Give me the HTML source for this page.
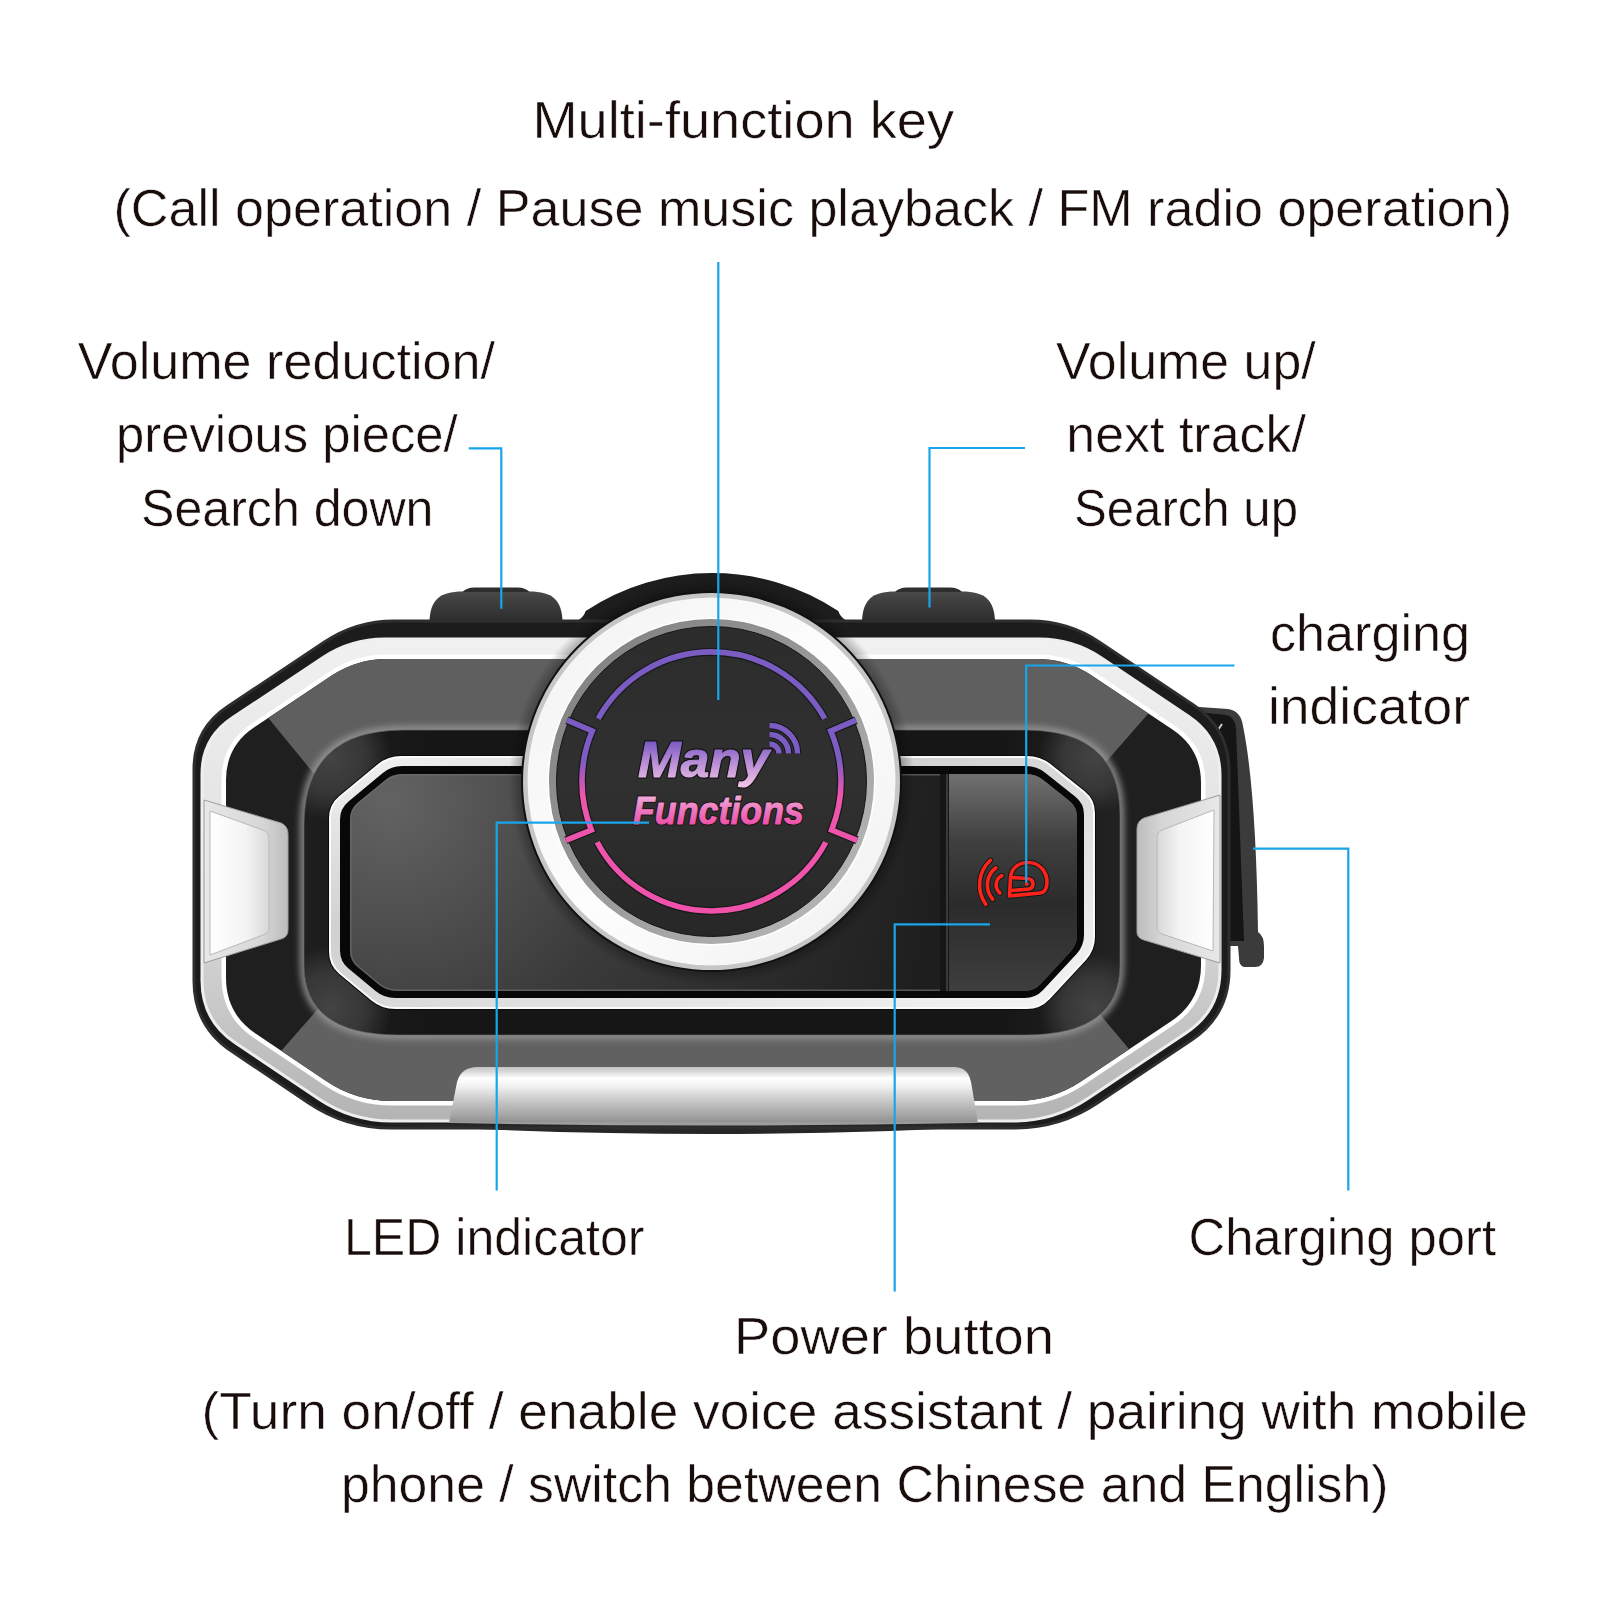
<!DOCTYPE html>
<html><head><meta charset="utf-8"><title>Intercom diagram</title>
<style>
html,body{margin:0;padding:0;background:#ffffff;}
body{width:1600px;height:1600px;overflow:hidden;position:relative;}
svg{position:absolute;left:0;top:0;display:block;}
svg text.L{font-family:"Liberation Sans",sans-serif;font-size:52px;fill:#180d0b;stroke:#ffffff;stroke-width:0.5px;}
</style></head><body>
<svg width="1600" height="1600" viewBox="0 0 1600 1600">
<defs>
<linearGradient id="gSil" x1="0" y1="621" x2="0" y2="1128" gradientUnits="userSpaceOnUse"><stop offset="0" stop-color="#f2f2f2"/><stop offset="0.5" stop-color="#e0e0e0"/><stop offset="1" stop-color="#b2b2b2"/></linearGradient>
<linearGradient id="gBtn" x1="0" y1="588" x2="0" y2="624" gradientUnits="userSpaceOnUse"><stop offset="0" stop-color="#4e4e4e"/><stop offset="0.3" stop-color="#424242"/><stop offset="1" stop-color="#2a2a2a"/></linearGradient>
<radialGradient id="gScr" cx="390" cy="800" r="560" gradientUnits="userSpaceOnUse"><stop offset="0" stop-color="#636363"/><stop offset="0.45" stop-color="#3a3a3a"/><stop offset="1" stop-color="#1e1e1e"/></radialGradient>
<linearGradient id="gPow" x1="0" y1="775" x2="0" y2="991" gradientUnits="userSpaceOnUse"><stop offset="0" stop-color="#707070"/><stop offset="0.3" stop-color="#404040"/><stop offset="0.6" stop-color="#2b2b2b"/><stop offset="1" stop-color="#3e3e3e"/></linearGradient>
<linearGradient id="gRec" x1="304" y1="0" x2="1120" y2="0" gradientUnits="userSpaceOnUse"><stop offset="0" stop-color="#1e1e1e"/><stop offset="0.16" stop-color="#161616"/><stop offset="0.85" stop-color="#161616"/><stop offset="1" stop-color="#222222"/></linearGradient><radialGradient id="gCor"><stop offset="0" stop-color="#444444" stop-opacity="1"/><stop offset="0.55" stop-color="#3a3a3a" stop-opacity="0.9"/><stop offset="1" stop-color="#3a3a3a" stop-opacity="0"/></radialGradient>
<radialGradient id="gShadow"><stop offset="0.9" stop-color="#000" stop-opacity="0.45"/><stop offset="1" stop-color="#000" stop-opacity="0"/></radialGradient>
<linearGradient id="gRing" x1="0" y1="0" x2="1" y2="1"><stop offset="0" stop-color="#f2f2f2"/><stop offset="0.5" stop-color="#fdfdfd"/><stop offset="1" stop-color="#f0f0f0"/></linearGradient>
<linearGradient id="gBev" x1="0" y1="0" x2="1" y2="1"><stop offset="0" stop-color="#7c7c7c"/><stop offset="0.5" stop-color="#9a9a9a"/><stop offset="1" stop-color="#bdbdbd"/></linearGradient>
<linearGradient id="gDisk" x1="0" y1="0" x2="0" y2="1"><stop offset="0" stop-color="#2c2c2c"/><stop offset="0.5" stop-color="#303030"/><stop offset="1" stop-color="#272727"/></linearGradient>
<linearGradient id="gArc" x1="0" y1="646.5" x2="0" y2="916.5" gradientUnits="userSpaceOnUse"><stop offset="0" stop-color="#7a5cc2"/><stop offset="0.42" stop-color="#7d5cc4"/><stop offset="0.55" stop-color="#ee55ad"/><stop offset="1" stop-color="#f052aa"/></linearGradient>
<linearGradient id="gMany" x1="0" y1="740" x2="0" y2="787" gradientUnits="userSpaceOnUse"><stop offset="0" stop-color="#7656c0"/><stop offset="0.45" stop-color="#b58ad6"/><stop offset="1" stop-color="#f4c6e6"/></linearGradient>
<linearGradient id="gFun" x1="0" y1="795" x2="0" y2="825" gradientUnits="userSpaceOnUse"><stop offset="0" stop-color="#f0b0da"/><stop offset="0.5" stop-color="#ee78bf"/><stop offset="1" stop-color="#ee4fa8"/></linearGradient>
<linearGradient id="gFrame" x1="0" y1="0" x2="1" y2="0"><stop offset="0" stop-color="#e8e8e8"/><stop offset="0.7" stop-color="#d6d6d6"/><stop offset="1" stop-color="#bcbcbc"/></linearGradient>
<linearGradient id="gFrameR" x1="1" y1="0" x2="0" y2="0"><stop offset="0" stop-color="#e8e8e8"/><stop offset="0.7" stop-color="#d6d6d6"/><stop offset="1" stop-color="#bcbcbc"/></linearGradient>
<linearGradient id="gClip" x1="0" y1="0" x2="1" y2="0"><stop offset="0" stop-color="#ffffff"/><stop offset="0.6" stop-color="#f4f4f4"/><stop offset="1" stop-color="#d8d8d8"/></linearGradient>
<linearGradient id="gClipR" x1="1" y1="0" x2="0" y2="0"><stop offset="0" stop-color="#ffffff"/><stop offset="0.6" stop-color="#f4f4f4"/><stop offset="1" stop-color="#d8d8d8"/></linearGradient>
<linearGradient id="gBar" x1="0" y1="1067" x2="0" y2="1123" gradientUnits="userSpaceOnUse"><stop offset="0" stop-color="#c4c4c4"/><stop offset="0.08" stop-color="#d8d8d8"/><stop offset="0.2" stop-color="#ffffff"/><stop offset="0.35" stop-color="#f0f0f0"/><stop offset="0.6" stop-color="#c8c8c8"/><stop offset="0.85" stop-color="#a6a6a6"/><stop offset="0.97" stop-color="#939393"/><stop offset="1" stop-color="#9d9d9d"/></linearGradient>
<linearGradient id="gRim" x1="0" y1="0" x2="1" y2="1"><stop offset="0" stop-color="#f2f2f2"/><stop offset="0.35" stop-color="#d0d0d0"/><stop offset="0.7" stop-color="#e4e4e4"/><stop offset="1" stop-color="#f4f4f4"/></linearGradient>
<clipPath id="cInner"><path d="M331.7,675.6 Q356.7,659.0 386.7,659.0 L1037.2,659.0 Q1067.2,659.0 1092.1,675.7 L1172.8,729.8 Q1201.0,748.8 1201.0,782.8 L1201.0,965.2 Q1201.0,1001.2 1171.1,1021.3 L1081.7,1081.0 Q1051.8,1101.0 1015.8,1101.0 L392.0,1101.0 Q356.0,1101.0 326.1,1080.9 L255.9,1033.8 Q226.0,1013.8 226.0,977.8 L226.0,780.1 Q226.0,746.1 254.3,727.3 Z"/></clipPath>
<filter id="fBlur" x="-10%" y="-10%" width="120%" height="120%"><feGaussianBlur stdDeviation="3.5"/></filter>
<clipPath id="cScr0"><path d="M384.8,780.4 Q392.6,774.0 402.6,774.0 L1025.7,774.0 Q1035.7,774.0 1043.5,780.2 L1069.2,800.7 Q1077.0,806.9 1077.0,816.9 L1077.0,934.8 Q1077.0,944.8 1070.2,952.1 L1040.8,983.7 Q1034.0,991.0 1024.0,991.0 L396.5,991.0 Q386.5,991.0 378.8,984.6 L357.7,967.1 Q350.0,960.8 350.0,950.8 L350.0,819.2 Q350.0,809.2 357.7,802.8 Z"/></clipPath>
</defs>
<path d="M429.5,628 L429.5,622 C430.0,600 439.5,591.5 462.5,591.5 L529.5,591.5 C552.5,591.5 562.0,600 562.5,622 L562.5,628 Z" fill="url(#gBtn)"/>
<path d="M462.5,592 Q466.5,587.5 474.5,587.5 L517.5,587.5 Q525.5,587.5 529.5,592 Z" fill="#2e2e2e"/>
<path d="M862,628 L862,622 C862.5,600 872,591.5 895,591.5 L962,591.5 C985,591.5 994.5,600 995,622 L995,628 Z" fill="url(#gBtn)"/>
<path d="M895,592 Q899,587.5 907,587.5 L950,587.5 Q958,587.5 962,592 Z" fill="#2e2e2e"/>
<path d="M1185,706 L1228,709 Q1241,711 1243,726 Q1256,790 1258,932 Q1264,936 1264,946 L1264,958 Q1263,967 1255,967 L1244,967 Q1239,966 1239,958 L1238,946 L1185,946 Z" fill="#3b3b3b"/>
<path d="M1198,712 L1226,715 Q1235,717 1236,728 L1244,941 L1200,941 Z" fill="#151515"/>
<path d="M1216,733 L1222,724" stroke="#d0d0d0" stroke-width="2"/>
<path d="M566,624 Q582,622 585.7,611 A229,229 0 0 1 838.3,611 Q842,622 858,624 Z" fill="#1d1d1d"/>
<path d="M324.4,642.1 Q356.0,621.0 394.0,621.0 L1030.0,621.0 Q1068.0,621.0 1099.6,642.2 L1194.1,705.6 Q1229.0,729.0 1229.0,771.0 L1229.0,970.0 Q1229.0,1015.0 1191.6,1040.0 L1097.4,1103.0 Q1060.0,1128.0 1015.0,1128.0 L391.0,1128.0 Q346.0,1128.0 308.6,1102.9 L231.4,1051.1 Q194.0,1026.0 194.0,981.0 L194.0,769.0 Q194.0,729.0 227.3,706.8 Z" fill="#1c1c1c"/>
<path d="M378,1124 Q712,1144 1040,1124 Z" fill="#262626"/>
<path d="M324.4,642.1 Q356.0,621.0 394.0,621.0 L1030.0,621.0 Q1068.0,621.0 1099.6,642.2 L1194.1,705.6 Q1229.0,729.0 1229.0,771.0 L1229.0,970.0 Q1229.0,1015.0 1191.6,1040.0 L1097.4,1103.0 Q1060.0,1128.0 1015.0,1128.0 L391.0,1128.0 Q346.0,1128.0 308.6,1102.9 L231.4,1051.1 Q194.0,1026.0 194.0,981.0 L194.0,769.0 Q194.0,729.0 227.3,706.8 Z" fill="none" stroke="#2e2e2e" stroke-width="3"/>
<path d="M322.3,657.9 Q350.6,639.0 384.6,639.0 L1039.3,639.0 Q1073.3,639.0 1101.5,657.9 L1188.4,716.2 Q1220.0,737.4 1220.0,775.4 L1220.0,970.2 Q1220.0,1010.2 1186.7,1032.4 L1087.5,1098.8 Q1054.3,1121.0 1014.3,1121.0 L391.7,1121.0 Q351.7,1121.0 318.5,1098.7 L235.2,1042.8 Q202.0,1020.5 202.0,980.5 L202.0,774.1 Q202.0,738.1 232.0,718.1 Z" fill="url(#gSil)"/>
<path d="M322.3,657.9 Q350.6,639.0 384.6,639.0 L1039.3,639.0 Q1073.3,639.0 1101.5,657.9 L1188.4,716.2 Q1220.0,737.4 1220.0,775.4 L1220.0,970.2 Q1220.0,1010.2 1186.7,1032.4 L1087.5,1098.8 Q1054.3,1121.0 1014.3,1121.0 L391.7,1121.0 Q351.7,1121.0 318.5,1098.7 L235.2,1042.8 Q202.0,1020.5 202.0,980.5 L202.0,774.1 Q202.0,738.1 232.0,718.1 Z" fill="none" stroke="#eeeeee" stroke-width="3"/>
<path d="M331.7,675.6 Q356.7,659.0 386.7,659.0 L1037.2,659.0 Q1067.2,659.0 1092.1,675.7 L1172.8,729.8 Q1201.0,748.8 1201.0,782.8 L1201.0,965.2 Q1201.0,1001.2 1171.1,1021.3 L1081.7,1081.0 Q1051.8,1101.0 1015.8,1101.0 L392.0,1101.0 Q356.0,1101.0 326.1,1080.9 L255.9,1033.8 Q226.0,1013.8 226.0,977.8 L226.0,780.1 Q226.0,746.1 254.3,727.3 Z" fill="none" stroke="#ffffff" stroke-width="9"/>
<path d="M331.7,675.6 Q356.7,659.0 386.7,659.0 L1037.2,659.0 Q1067.2,659.0 1092.1,675.7 L1172.8,729.8 Q1201.0,748.8 1201.0,782.8 L1201.0,965.2 Q1201.0,1001.2 1171.1,1021.3 L1081.7,1081.0 Q1051.8,1101.0 1015.8,1101.0 L392.0,1101.0 Q356.0,1101.0 326.1,1080.9 L255.9,1033.8 Q226.0,1013.8 226.0,977.8 L226.0,780.1 Q226.0,746.1 254.3,727.3 Z" fill="#1f1f1f"/>
<g clip-path="url(#cInner)"><polygon points="202,637 315,775 1106,762 1210,643" fill="#5f5f5f"/><polygon points="325,1001 224,1116 1192,1124 1092,1005" fill="#616161"/></g>
<g clip-path="url(#cInner)"><path d="M304.0,825.0 Q304.0,730.0 404.0,730.0 L1025.0,730.0 Q1120.0,730.0 1120.0,815.0 L1120.0,965.0 Q1120.0,1035.0 1025.0,1035.0 L399.0,1035.0 Q304.0,1035.0 304.0,965.0 Z" fill="none" stroke="#9a9a9a" stroke-width="7" filter="url(#fBlur)"/></g>
<path d="M304.0,825.0 Q304.0,730.0 404.0,730.0 L1025.0,730.0 Q1120.0,730.0 1120.0,815.0 L1120.0,965.0 Q1120.0,1035.0 1025.0,1035.0 L399.0,1035.0 Q304.0,1035.0 304.0,965.0 Z" fill="url(#gRec)"/>
<clipPath id="cRec"><path d="M304.0,825.0 Q304.0,730.0 404.0,730.0 L1025.0,730.0 Q1120.0,730.0 1120.0,815.0 L1120.0,965.0 Q1120.0,1035.0 1025.0,1035.0 L399.0,1035.0 Q304.0,1035.0 304.0,965.0 Z"/></clipPath>
<g clip-path="url(#cRec)"><circle cx="330" cy="758" r="62" fill="url(#gCor)"/><circle cx="330" cy="1008" r="62" fill="url(#gCor)"/><circle cx="1094" cy="758" r="55" fill="url(#gCor)"/><circle cx="1094" cy="1008" r="55" fill="url(#gCor)"/></g>
<path d="M304.0,825.0 Q304.0,730.0 404.0,730.0 L1025.0,730.0 Q1120.0,730.0 1120.0,815.0 L1120.0,965.0 Q1120.0,1035.0 1025.0,1035.0 L399.0,1035.0 Q304.0,1035.0 304.0,965.0 Z" fill="none" stroke="#6a6a6a" stroke-width="1" stroke-opacity="0.6"/>
<path d="M378.0,765.3 Q388.0,757.0 401.0,757.0 L1027.0,757.0 Q1040.0,757.0 1050.2,765.1 L1083.8,791.9 Q1094.0,800.0 1094.0,813.0 L1094.0,937.0 Q1094.0,950.0 1085.1,959.5 L1048.9,998.5 Q1040.0,1008.0 1027.0,1008.0 L395.0,1008.0 Q382.0,1008.0 372.0,999.7 L340.0,973.3 Q330.0,965.0 330.0,952.0 L330.0,818.0 Q330.0,805.0 340.0,796.7 Z" fill="none" stroke="#0a0a0a" stroke-width="4"/>
<path d="M378.0,765.3 Q388.0,757.0 401.0,757.0 L1027.0,757.0 Q1040.0,757.0 1050.2,765.1 L1083.8,791.9 Q1094.0,800.0 1094.0,813.0 L1094.0,937.0 Q1094.0,950.0 1085.1,959.5 L1048.9,998.5 Q1040.0,1008.0 1027.0,1008.0 L395.0,1008.0 Q382.0,1008.0 372.0,999.7 L340.0,973.3 Q330.0,965.0 330.0,952.0 L330.0,818.0 Q330.0,805.0 340.0,796.7 Z" fill="url(#gRim)"/>
<path d="M378.0,765.3 Q388.0,757.0 401.0,757.0 L1027.0,757.0 Q1040.0,757.0 1050.2,765.1 L1083.8,791.9 Q1094.0,800.0 1094.0,813.0 L1094.0,937.0 Q1094.0,950.0 1085.1,959.5 L1048.9,998.5 Q1040.0,1008.0 1027.0,1008.0 L395.0,1008.0 Q382.0,1008.0 372.0,999.7 L340.0,973.3 Q330.0,965.0 330.0,952.0 L330.0,818.0 Q330.0,805.0 340.0,796.7 Z" fill="none" stroke="#fafafa" stroke-width="2"/>
<path d="M382.8,773.0 Q391.2,766.0 402.2,766.0 L1025.9,766.0 Q1036.9,766.0 1045.5,772.9 L1075.4,796.7 Q1084.0,803.5 1084.0,814.5 L1084.0,935.1 Q1084.0,946.1 1076.5,954.1 L1043.1,989.9 Q1035.6,998.0 1024.6,998.0 L395.0,998.0 Q384.0,998.0 375.6,991.0 L348.5,968.6 Q340.0,961.6 340.0,950.6 L340.0,819.4 Q340.0,808.4 348.5,801.4 Z" fill="#080808"/>
<path d="M384.8,780.4 Q392.6,774.0 402.6,774.0 L1025.7,774.0 Q1035.7,774.0 1043.5,780.2 L1069.2,800.7 Q1077.0,806.9 1077.0,816.9 L1077.0,934.8 Q1077.0,944.8 1070.2,952.1 L1040.8,983.7 Q1034.0,991.0 1024.0,991.0 L396.5,991.0 Q386.5,991.0 378.8,984.6 L357.7,967.1 Q350.0,960.8 350.0,950.8 L350.0,819.2 Q350.0,809.2 357.7,802.8 Z" fill="url(#gScr)"/>
<path d="M384.8,780.4 Q392.6,774.0 402.6,774.0 L1025.7,774.0 Q1035.7,774.0 1043.5,780.2 L1069.2,800.7 Q1077.0,806.9 1077.0,816.9 L1077.0,934.8 Q1077.0,944.8 1070.2,952.1 L1040.8,983.7 Q1034.0,991.0 1024.0,991.0 L396.5,991.0 Q386.5,991.0 378.8,984.6 L357.7,967.1 Q350.0,960.8 350.0,950.8 L350.0,819.2 Q350.0,809.2 357.7,802.8 Z" fill="none" stroke="#6e6e6e" stroke-width="3" stroke-opacity="0.7" clip-path="url(#cScr0)"/>
<clipPath id="cScr"><path d="M384.8,780.4 Q392.6,774.0 402.6,774.0 L1025.7,774.0 Q1035.7,774.0 1043.5,780.2 L1069.2,800.7 Q1077.0,806.9 1077.0,816.9 L1077.0,934.8 Q1077.0,944.8 1070.2,952.1 L1040.8,983.7 Q1034.0,991.0 1024.0,991.0 L396.5,991.0 Q386.5,991.0 378.8,984.6 L357.7,967.1 Q350.0,960.8 350.0,950.8 L350.0,819.2 Q350.0,809.2 357.7,802.8 Z"/></clipPath>
<g clip-path="url(#cScr)">
<rect x="940" y="760" width="10" height="250" fill="#161616"/>
<rect x="946" y="760" width="2" height="250" fill="#3a3a3a"/>
<rect x="949" y="760" width="150" height="250" fill="url(#gPow)"/>
</g>
<circle cx="711.5" cy="781.5" r="203" fill="url(#gShadow)"/>
<circle cx="711.5" cy="781.5" r="190.5" fill="#111111"/>
<circle cx="711.5" cy="781.5" r="188.5" fill="#c6c6c6"/>
<circle cx="711.5" cy="781.5" r="184" fill="url(#gRing)"/>
<circle cx="711.5" cy="781.5" r="164" fill="#ffffff"/>
<circle cx="711.5" cy="781.5" r="162.5" fill="url(#gBev)"/>
<circle cx="711.5" cy="781.5" r="155" fill="url(#gDisk)"/>
<circle cx="711.5" cy="781.5" r="155" fill="none" stroke="#151515" stroke-width="1"/>
<path d="M598.2,718.7 A129.5,129.5 0 0 1 824.8,718.7" fill="none" stroke="#141a18" stroke-width="8" stroke-linejoin="miter"/>
<path d="M825.8,842.3 A129.5,129.5 0 0 1 597.2,842.3" fill="none" stroke="#141a18" stroke-width="8" stroke-linejoin="miter"/>
<path d="M567.0,720.2 L592.3,730.9 A129.5,129.5 0 0 0 591.4,830.0 L565.9,840.3" fill="none" stroke="#141a18" stroke-width="8" stroke-linejoin="miter"/>
<path d="M856.0,720.2 L830.7,730.9 A129.5,129.5 0 0 1 831.6,830.0 L857.1,840.3" fill="none" stroke="#141a18" stroke-width="8" stroke-linejoin="miter"/>
<path d="M598.2,718.7 A129.5,129.5 0 0 1 824.8,718.7" fill="none" stroke="url(#gArc)" stroke-width="5.6" stroke-linejoin="miter"/>
<path d="M825.8,842.3 A129.5,129.5 0 0 1 597.2,842.3" fill="none" stroke="url(#gArc)" stroke-width="5.6" stroke-linejoin="miter"/>
<path d="M567.0,720.2 L592.3,730.9 A129.5,129.5 0 0 0 591.4,830.0 L565.9,840.3" fill="none" stroke="url(#gArc)" stroke-width="5.6" stroke-linejoin="miter"/>
<path d="M856.0,720.2 L830.7,730.9 A129.5,129.5 0 0 1 831.6,830.0 L857.1,840.3" fill="none" stroke="url(#gArc)" stroke-width="5.6" stroke-linejoin="miter"/>
<path d="M769.5,744.0 A9.5,9.5 0 0 1 779.0,753.5" fill="none" stroke="#141414" stroke-width="7.5"/>
<path d="M769.5,734.5 A19,19 0 0 1 788.5,753.5" fill="none" stroke="#141414" stroke-width="7.5"/>
<path d="M769.5,725.5 A28,28 0 0 1 797.5,753.5" fill="none" stroke="#141414" stroke-width="7.5"/>
<path d="M769.5,744.0 A9.5,9.5 0 0 1 779.0,753.5" fill="none" stroke="#7a5cc2" stroke-width="5.5"/>
<path d="M769.5,734.5 A19,19 0 0 1 788.5,753.5" fill="none" stroke="#7a5cc2" stroke-width="5.5"/>
<path d="M769.5,725.5 A28,28 0 0 1 797.5,753.5" fill="none" stroke="#7a5cc2" stroke-width="5.5"/>
<text x="638" y="777" font-family="Liberation Sans, sans-serif" font-weight="bold" font-style="italic" font-size="50" textLength="131" lengthAdjust="spacingAndGlyphs" fill="#151515" stroke="#151515" stroke-width="3.4" stroke-linejoin="round">Many</text>
<text x="638" y="777" font-family="Liberation Sans, sans-serif" font-weight="bold" font-style="italic" font-size="50" textLength="131" lengthAdjust="spacingAndGlyphs" fill="url(#gMany)" stroke="url(#gMany)" stroke-width="1.1" stroke-linejoin="round">Many</text>
<text x="633" y="823.5" font-family="Liberation Sans, sans-serif" font-weight="bold" font-style="italic" font-size="38" textLength="171" lengthAdjust="spacingAndGlyphs" fill="#151515" stroke="#151515" stroke-width="3" stroke-linejoin="round">Functions</text>
<text x="633" y="823.5" font-family="Liberation Sans, sans-serif" font-weight="bold" font-style="italic" font-size="38" textLength="171" lengthAdjust="spacingAndGlyphs" fill="url(#gFun)" stroke="url(#gFun)" stroke-width="0.9" stroke-linejoin="round">Functions</text>
<path d="M204,800 L281,823 Q288,826 288,834 L288,930 Q288,937 281,939 L204,963 Z" fill="url(#gFrame)" stroke="#9c9c9c" stroke-width="1"/>
<path d="M210,811 L263,830 Q269,832 269,838 L269,928 Q269,933 263,935 L210,955 Z" fill="url(#gClip)" stroke="#b8b8b8" stroke-width="1"/>
<path d="M1220,795 L1144,818 Q1137,821 1137,829 L1137,932 Q1137,938 1144,940 L1220,963 Z" fill="url(#gFrameR)" stroke="#9c9c9c" stroke-width="1"/>
<path d="M1214,810 L1162,830 Q1157,832 1157,838 L1157,927 Q1157,932 1162,934 L1213,951 Z" fill="url(#gClipR)" stroke="#b8b8b8" stroke-width="1"/>
<path d="M449,1123 L457,1082 Q461,1067 478,1067 L954,1067 Q968,1067 971,1082 L978,1123 Q712,1128 449,1123 Z" fill="url(#gBar)"/>
<path d="M1001.9,875.7 A10.4,10.4 0 0 0 999.9,893.0" fill="none" stroke="#0e1a1a" stroke-width="5.5" stroke-linecap="round"/>
<path d="M995.9,867.8 A21.6,21.6 0 0 0 992.7,899.2" fill="none" stroke="#0e1a1a" stroke-width="5.5" stroke-linecap="round"/>
<path d="M990.4,860.3 A33.5,33.5 0 0 0 985.8,904.4" fill="none" stroke="#0e1a1a" stroke-width="5.5" stroke-linecap="round"/>
<path d="M1009.5,896 L1010.5,878 C1011,867 1020,862.5 1028,862.5 C1040,862.5 1047,872 1047,882 C1047,889 1045,892.5 1040,893 Z" fill="none" stroke="#0e1a1a" stroke-width="5.5" stroke-linejoin="round"/>
<path d="M1011.5,877.5 L1027,878.5 C1031,878.8 1033,881 1033,884 C1033,887 1031,889 1027,889.3 L1011,890.5" fill="none" stroke="#0e1a1a" stroke-width="5.5" stroke-linejoin="round"/>
<path d="M1001.9,875.7 A10.4,10.4 0 0 0 999.9,893.0" fill="none" stroke="#ff2219" stroke-width="3.6" stroke-linecap="round"/>
<path d="M995.9,867.8 A21.6,21.6 0 0 0 992.7,899.2" fill="none" stroke="#ff2219" stroke-width="3.6" stroke-linecap="round"/>
<path d="M990.4,860.3 A33.5,33.5 0 0 0 985.8,904.4" fill="none" stroke="#ff2219" stroke-width="3.6" stroke-linecap="round"/>
<path d="M1009.5,896 L1010.5,878 C1011,867 1020,862.5 1028,862.5 C1040,862.5 1047,872 1047,882 C1047,889 1045,892.5 1040,893 Z" fill="none" stroke="#ff2219" stroke-width="3.6" stroke-linejoin="round"/>
<path d="M1011.5,877.5 L1027,878.5 C1031,878.8 1033,881 1033,884 C1033,887 1031,889 1027,889.3 L1011,890.5" fill="none" stroke="#ff2219" stroke-width="3.6" stroke-linejoin="round"/>
<circle cx="1026.6" cy="884" r="1.8" fill="#ff2219"/>
<path d="M718.3,262 V700" fill="none" stroke="#19a5e9" stroke-width="2.2"/>
<path d="M468.8,448.3 H501.3 V608.8" fill="none" stroke="#19a5e9" stroke-width="2.2"/>
<path d="M1025,448 H929.5 V607.5" fill="none" stroke="#19a5e9" stroke-width="2.2"/>
<path d="M1234.5,665.5 H1026.2 V882.5" fill="none" stroke="#19a5e9" stroke-width="2.2"/>
<path d="M649,822.6 H496.7 V1190.4" fill="none" stroke="#19a5e9" stroke-width="2.2"/>
<path d="M990,924.3 H894.7 V1291.5" fill="none" stroke="#19a5e9" stroke-width="2.2"/>
<path d="M1253,848.6 H1348.3 V1190.5" fill="none" stroke="#19a5e9" stroke-width="2.2"/>
<text class="L" x="532.50" y="138" textLength="421.50" lengthAdjust="spacingAndGlyphs">Multi-function key</text>
<text class="L" x="113.50" y="225.5" textLength="1398.50" lengthAdjust="spacingAndGlyphs">(Call operation / Pause music playback / FM radio operation)</text>
<text class="L" x="77.75" y="378.5" textLength="417.25" lengthAdjust="spacingAndGlyphs">Volume reduction/</text>
<text class="L" x="116.00" y="452" textLength="341.75" lengthAdjust="spacingAndGlyphs">previous piece/</text>
<text class="L" x="141.00" y="525.5" textLength="292.50" lengthAdjust="spacingAndGlyphs">Search down</text>
<text class="L" x="1056.00" y="378.5" textLength="259.75" lengthAdjust="spacingAndGlyphs">Volume up/</text>
<text class="L" x="1066.25" y="452" textLength="239.75" lengthAdjust="spacingAndGlyphs">next track/</text>
<text class="L" x="1074.00" y="525.5" textLength="224.00" lengthAdjust="spacingAndGlyphs">Search up</text>
<text class="L" x="1270.00" y="651.25" textLength="200.00" lengthAdjust="spacingAndGlyphs">charging</text>
<text class="L" x="1268.00" y="724.2" textLength="202.00" lengthAdjust="spacingAndGlyphs">indicator</text>
<text class="L" x="344.00" y="1255" textLength="300.50" lengthAdjust="spacingAndGlyphs">LED indicator</text>
<text class="L" x="1188.50" y="1255" textLength="307.50" lengthAdjust="spacingAndGlyphs">Charging port</text>
<text class="L" x="734.00" y="1354" textLength="320.00" lengthAdjust="spacingAndGlyphs">Power button</text>
<text class="L" x="201.50" y="1428.6" textLength="1326.50" lengthAdjust="spacingAndGlyphs">(Turn on/off / enable voice assistant / pairing with mobile</text>
<text class="L" x="341.00" y="1501.5" textLength="1047.50" lengthAdjust="spacingAndGlyphs">phone / switch between Chinese and English)</text>
</svg>
</body></html>
